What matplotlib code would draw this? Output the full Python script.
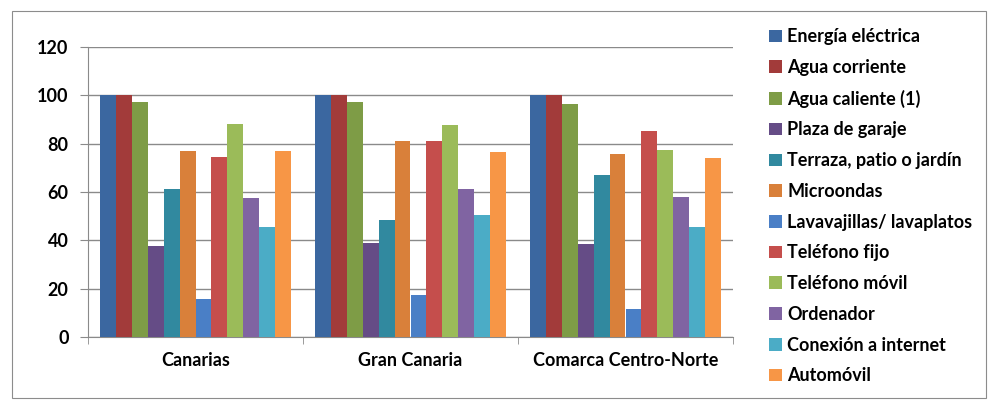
import numpy as np
import matplotlib.pyplot as plt
from matplotlib.patches import Rectangle

plt.rcParams['font.family'] = ['Lato', 'DejaVu Sans']
plt.rcParams['font.weight'] = 'bold'

# Regions (categories on x axis)
regions = ["Canarias", "Gran Canaria", "Comarca Centro-Norte"]

# Equipment series (% of households)
energia_electrica = [100, 100, 100]
agua_corriente = [100, 100, 100]
agua_caliente = [97.1, 97.1, 96.6]
plaza_garaje = [37.8, 39.0, 38.6]
terraza = [61.2, 48.3, 67.0]
microondas = [76.9, 81.3, 75.9]
lavavajillas = [15.6, 17.3, 11.4]
telefono_fijo = [74.4, 80.9, 85.2]
telefono_movil = [88.3, 87.7, 77.5]
ordenador = [57.7, 61.2, 58.1]
conexion_internet = [45.4, 50.4, 45.4]
automovil = [76.9, 76.5, 73.9]

series_names = ["Energía eléctrica", "Agua corriente", "Agua caliente (1)",
                "Plaza de garaje", "Terraza, patio o jardín", "Microondas",
                "Lavavajillas/ lavaplatos", "Teléfono fijo", "Teléfono móvil",
                "Ordenador", "Conexión a internet", "Automóvil"]
series_values = [energia_electrica, agua_corriente, agua_caliente, plaza_garaje,
                 terraza, microondas, lavavajillas, telefono_fijo,
                 telefono_movil, ordenador, conexion_internet, automovil]
colors = ["#3B67A0", "#A23B3A", "#7E9C46", "#654C86", "#31899F", "#D9803A",
          "#4A7FC6", "#C54E4C", "#9BBB59", "#8064A2", "#4BACC6", "#F79646"]

fig = plt.figure(figsize=(9.88, 4.0), dpi=100)
fig.patches.append(Rectangle((12 / 988, 2 / 400), 974 / 988, 387 / 400,
                             transform=fig.transFigure, fill=False,
                             edgecolor="#8c8c8c", linewidth=0.8))

ax = fig.add_axes([88 / 988, 63 / 400, 645 / 988, 290 / 400])

n = len(series_names)
group_w = 0.884
bar_w = group_w / n
x = np.arange(len(regions))
for i, (name, vals) in enumerate(zip(series_names, series_values)):
    ax.bar(x - group_w / 2 + bar_w * (i + 0.5), vals, width=bar_w,
           color=colors[i], label=name, zorder=3)

ax.set_xlim(-0.5, len(regions) - 0.5)
ax.set_ylim(0, 120)
ax.set_yticks(range(0, 121, 20))
ax.yaxis.grid(True, color="#8a8a8a", linewidth=1.0, zorder=0)
ax.tick_params(axis='y', labelsize=13, length=6, color="#8a8a8a", pad=8)

ax.set_xticks(x)
ax.set_xticklabels(regions, fontsize=13)
ax.set_xticks(np.arange(-0.5, len(regions)), minor=True)
ax.tick_params(axis='x', which='major', length=0, pad=11)
ax.tick_params(axis='x', which='minor', length=5, color="#8a8a8a")

for side in ['top', 'right']:
    ax.spines[side].set_visible(False)
for side in ['left', 'bottom']:
    ax.spines[side].set_color("#8a8a8a")

fig.legend(loc='upper left', bbox_to_anchor=(762 / 988, 1 - 21 / 400),
           frameon=False, handlelength=0.7, handleheight=0.7,
           handletextpad=0.3, labelspacing=0.76, borderaxespad=0,
           prop={'weight': 'bold', 'size': 13})

fig.savefig("out.png", dpi=100)
